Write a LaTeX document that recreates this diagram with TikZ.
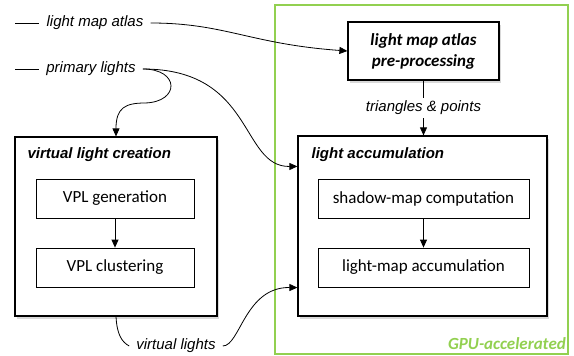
\documentclass[tikz,border=0pt]{standalone}
\usepackage{fontspec}
\setmainfont{Carlito}
\newfontfamily\labelfont{Liberation Sans}
\usetikzlibrary{arrows.meta,calc,shadows}
\definecolor{gpugreen}{RGB}{146,208,80}
\tikzset{
	stage/.style={draw, line width=1.2pt, fill=white, drop shadow={shadow xshift=2pt, shadow yshift=-3pt, opacity=0.3}},
	task/.style={draw, line width=0.8pt, fill=white, minimum width=158pt, minimum height=39pt, font=\fontsize{17}{20}\selectfont},
	lbl/.style={font=\labelfont\itshape\fontsize{15}{18}\selectfont, inner xsep=7pt, inner ysep=3pt},
	ttl/.style={font=\labelfont\bfseries\itshape\fontsize{15}{18}\selectfont, anchor=west, inner sep=0pt},
	flow/.style={-{Triangle[length=8pt,width=7pt]}, line width=0.8pt},
	wire/.style={line width=0.8pt}
}

\begin{document}
\begin{tikzpicture}[x=1pt,y=-1pt]
			%%%%% START %%%%%
			
			\useasboundingbox (0,0) rectangle (574,356);
			
			\draw[gpugreen, line width=2pt] (275,5) rectangle (568,354);
			\node[font=\bfseries\itshape\fontsize{17}{20}\selectfont, text=gpugreen, anchor=base east, inner sep=0pt] (gpu) at (566,349) {GPU-accelerated};
			
			\node[stage, minimum width=202pt, minimum height=179pt] (vlc) at (116,226.5) {};
			\node[stage, minimum width=249pt, minimum height=180pt] (acc) at (422.5,226) {};
			\node[stage, minimum width=151pt, minimum height=58pt, align=center, font=\bfseries\itshape\fontsize{17}{21}\selectfont] (atlas) at (423.5,51) {light map atlas\\pre-processing};
			
			\node[ttl] (vlct) at ($(vlc.north west)+(13,18)$) {virtual light creation};
			\node[ttl] (acct) at ($(acc.north west)+(14,19)$) {light accumulation};
			
			\node[task] (gen) at (115,198.5) {VPL generation};
			\node[task] (clu) at (115,267.5) {VPL clustering};
			\node[task, minimum width=211pt] (shm) at (423.5,198.5) {shadow-map computation};
			\node[task, minimum width=211pt] (lmp) at (423.5,267.5) {light-map accumulation};
			
			\draw[flow] (gen) -- (clu);
			\draw[flow] (shm) -- (lmp);
			\draw[flow] (atlas.south) -- node[lbl, fill=white] (tri) {triangles \& points} (atlas.south |- acc.north);
			
			\coordinate (atlas0) at (15,23);
			\node[lbl] (atlasin) at (95,23) {light map atlas};
			\draw[wire] (atlas0) -- (atlasin);
			\draw[flow] (atlasin.east) .. controls (225,23) and (250,44) .. (atlas.west);
			
			\coordinate (prim0) at (15,69);
			\node[lbl] (prim) at (91,69) {primary lights};
			\draw[wire] (prim0) -- (prim);
			\draw[flow] (prim.east) .. controls (180,69) and (180,102) .. (145,103) .. controls (125,103) and (116,108) .. (vlc.north);
			\draw[flow] (prim.east) .. controls (255,69) and (240,167) .. ($(acc.north west)+(0,31)$);
			
			\node[lbl] (vl) at (176,346) {virtual lights};
			\draw[wire] (vlc.south) .. controls (117,335) and (122,342) .. (vl.west);
			\draw[flow] (vl.east) .. controls (240,346) and (245,287) .. ($(acc.south west)+(0,-29)$);
			
			%%%%% END %%%%%
\end{tikzpicture}
\end{document}
